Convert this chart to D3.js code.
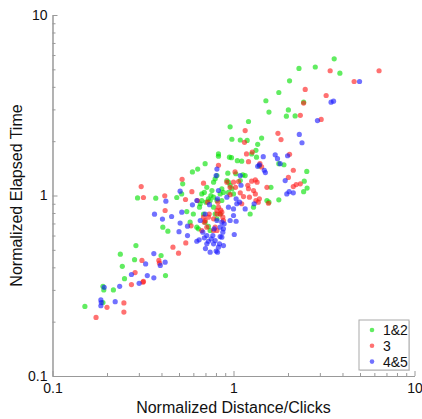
<!DOCTYPE html>
<html>
<head>
<meta charset="utf-8">
<script src="https://cdn.jsdelivr.net/npm/d3@7"></script>
<style>
  html, body { margin: 0; padding: 0; background: #fff; }
  svg { display: block; font-family: "Liberation Sans", Arial, Helvetica, sans-serif; }
</style>
</head>
<body>
<svg id="chart" width="422" height="419"></svg>
<script>
// Group "1&2": [distance/clicks, elapsed time], both normalized
const group12 = [
  [0.151,0.243],[0.19,0.314],[0.192,0.30],[0.217,0.30],[0.19,0.255],[0.237,0.473],[0.243,0.405],
  [0.25,0.346],[0.284,0.441],[0.289,0.528],[0.295,0.97],[0.372,0.967],[0.398,0.465],[0.407,0.668],
  [0.434,0.634],[0.421,0.36],[0.486,0.975],[0.524,1.16],[0.517,1.02],[0.552,0.815],[0.593,1.35],
  [0.634,1.40],[0.697,1.50],[0.576,0.712],[0.6,0.79],[0.627,0.668],[0.64,0.654],[0.649,0.862],
  [0.655,0.90],[0.668,1.02],[0.683,0.79],[0.704,0.918],[0.712,1.11],[0.727,0.958],[0.743,0.938],
  [0.75,1.0],[0.76,1.066],[0.776,1.185],[0.792,1.237],[0.81,1.29],[0.826,1.70],[0.826,1.65],
  [0.844,1.02],[0.862,1.09],[0.88,1.04],[0.776,0.862],[0.792,0.79],[0.81,0.743],[0.844,0.79],
  [0.862,0.938],[0.697,0.712],[0.727,0.674],[0.743,0.64],[0.95,1.63],[0.975,1.62],[0.958,2.40],
  [0.98,2.05],[0.919,1.21],[0.938,1.185],[0.958,1.14],[0.98,1.09],[1.0,1.02],[1.05,1.56],
  [1.09,2.03],[1.11,1.55],[1.126,1.30],[1.16,1.29],[1.19,2.02],[1.21,2.57],[1.236,0.79],
  [1.29,0.862],[1.33,1.78],[1.34,1.63],[1.36,1.92],[1.39,1.46],[1.43,2.08],[1.51,3.35],
  [1.57,2.9],[1.53,0.938],[1.57,0.918],[1.78,3.72],[1.78,1.50],[1.78,0.946],[1.9,1.48],
  [1.96,2.75],[2.01,2.98],[2.04,4.32],[2.19,2.76],[2.3,5.06],[2.44,3.29],[2.46,1.2],[2.44,1.05],
  [2.54,1.36],[2.55,1.10],[2.83,5.15],[3.6,5.72],[3.87,4.76],[1.61,1.11],[0.938,1.04],
  [0.668,0.938],[0.69,1.04],[0.776,0.979],[0.81,0.938],[0.93,1.33],[1.09,1.21],[1.26,1.70],
  [1.03,1.32]
];

// Group "3"
const group3 = [
  [0.174,0.211],[0.2,0.24],[0.248,0.254],[0.248,0.226],[0.273,0.321],[0.286,0.374],[0.312,0.437],
  [0.318,0.334],[0.316,0.331],[0.309,1.12],[0.318,0.975],[0.387,0.437],[0.39,0.422],[0.417,0.996],
  [0.419,0.826],[0.463,0.517],[0.497,0.479],[0.52,1.23],[0.543,0.95],[0.545,0.546],[0.589,1.05],
  [0.583,0.679],[0.683,1.17],[0.632,0.938],[0.683,0.758],[0.697,0.727],[0.712,0.668],[0.668,0.64],
  [0.776,0.64],[0.792,0.668],[0.81,0.826],[0.82,0.918],[0.826,1.47],[0.844,0.79],[0.862,0.808],
  [0.873,0.758],[0.88,0.727],[0.958,1.01],[0.919,1.185],[1.0,1.185],[1.02,1.35],[1.026,1.11],
  [1.066,1.195],[1.09,1.035],[1.11,0.90],[1.136,0.987],[1.16,2.29],[1.15,1.97],[1.18,1.70],
  [1.21,1.54],[1.2,1.14],[1.21,1.09],[1.225,0.979],[1.26,1.2],[1.27,1.74],[1.29,1.066],
  [1.32,1.02],[1.33,0.938],[1.32,1.22],[1.35,1.185],[1.37,0.918],[1.39,0.958],[1.40,1.50],
  [1.43,1.44],[1.56,0.906],[1.53,1.11],[1.76,2.21],[1.83,2.04],[2.04,1.69],[2.01,1.26],
  [2.14,1.38],[2.14,1.12],[2.22,1.15],[2.34,2.78],[2.44,3.25],[2.49,3.87],[2.34,1.16],
  [3.05,2.64],[3.25,3.58],[3.42,4.91],[4.64,4.28],[6.37,4.91],[0.734,0.79],[0.826,0.862],
  [0.81,0.79],[0.85,0.83],[0.776,0.743],[0.727,0.758],[0.69,0.712],[0.81,0.64],[0.958,1.11],
  [0.72,0.918]
];

// Group "4&5"
const group45 = [
  [0.185,0.264],[0.186,0.255],[0.185,0.245],[0.193,0.31],[0.222,0.258],[0.235,0.314],[0.273,0.365],
  [0.301,0.326],[0.327,0.418],[0.334,0.36],[0.363,0.477],[0.363,0.35],[0.366,0.788],[0.405,0.74],
  [0.423,0.93],[0.455,0.765],[0.394,0.41],[0.419,0.427],[0.507,1.057],[0.518,0.808],[0.507,0.703],
  [0.5,0.63],[0.557,0.676],[0.557,0.6],[0.593,0.888],[0.627,0.938],[0.646,0.568],[0.627,0.558],
  [0.655,0.727],[0.677,0.626],[0.69,0.583],[0.7,0.508],[0.712,0.54],[0.727,0.558],[0.743,0.485],
  [0.753,0.575],[0.769,0.6],[0.776,0.54],[0.792,0.563],[0.802,0.492],[0.816,0.485],[0.826,0.517],
  [0.837,0.54],[0.844,0.592],[0.862,0.588],[0.873,0.626],[0.88,0.528],[0.816,0.958],[0.826,1.066],
  [0.81,1.40],[0.802,1.29],[0.844,0.668],[0.862,0.712],[0.88,0.654],[0.888,0.697],[0.919,0.979],
  [0.938,0.862],[0.958,0.727],[1.0,0.775],[1.01,0.608],[1.034,0.72],[1.0,0.843],[1.043,0.90],
  [1.08,0.918],[1.09,1.29],[1.1,1.14],[1.16,0.843],[1.3,0.90],[1.36,1.45],[1.39,1.48],
  [1.46,1.64],[1.48,1.38],[1.5,1.34],[1.7,1.68],[1.75,1.60],[1.81,1.50],[1.93,1.21],[1.99,1.66],
  [1.97,1.02],[2.03,1.05],[2.14,1.035],[2.31,2.18],[2.39,1.96],[2.91,2.6],[3.46,3.29],[3.57,3.33],
  [4.97,4.28],[0.712,0.6],[0.782,0.654],[0.81,0.727],[0.737,0.89],[0.697,0.79],[1.034,0.958]
];

const seriesNames = ["1&2", "3", "4&5"];
const seriesColors = ["#00e000", "#ff1a1a", "#1a1aff"];
const seriesData = [group12, group3, group45];

const xTitle = "Normalized Distance/Clicks";
const yTitle = "Normalized Elapsed Time";
const majorTicks = [0.1, 1, 10];
const tickLabels = ["0.1", "1", "10"];

const svg = d3.select("#chart");
const plotLeft = 52.5, plotRight = 414.5, plotTop = 15, plotBottom = 376;

const x = d3.scaleLog().domain([0.1, 10]).range([plotLeft, plotRight]);
const y = d3.scaleLog().domain([0.1, 10]).range([plotBottom, plotTop]);

const minorTicks = [];
for (const d of [0.1, 1]) for (let k = 2; k <= 9; k++) minorTicks.push(+(d * k).toFixed(2));

const axisColor = "#999";

function styleAxis(g) {
  g.select(".domain").attr("stroke", axisColor);
  g.selectAll(".tick line").attr("stroke", axisColor);
  g.selectAll(".tick text").attr("fill", "#111").style("font-size", "14px");
}

// bottom axis: major ticks with labels, minor ticks without
const xMajor = svg.append("g").attr("transform", `translate(0,${plotBottom})`)
  .call(d3.axisBottom(x).tickValues(majorTicks).tickSizeInner(-5).tickSizeOuter(0)
    .tickPadding(7).tickFormat((d, i) => tickLabels[i]));
styleAxis(xMajor);
const xMinor = svg.append("g").attr("transform", `translate(0,${plotBottom})`)
  .call(d3.axisBottom(x).tickValues(minorTicks).tickSizeInner(-3).tickSizeOuter(0).tickFormat(""));
styleAxis(xMinor);

// left axis
const yMajor = svg.append("g").attr("transform", `translate(${plotLeft},0)`)
  .call(d3.axisLeft(y).tickValues(majorTicks).tickSizeInner(-5).tickSizeOuter(0)
    .tickPadding(5).tickFormat((d, i) => tickLabels[i]));
styleAxis(yMajor);
const yMinor = svg.append("g").attr("transform", `translate(${plotLeft},0)`)
  .call(d3.axisLeft(y).tickValues(minorTicks).tickSizeInner(-3).tickSizeOuter(0).tickFormat(""));
styleAxis(yMinor);

// axis titles
svg.append("text")
  .attr("x", (plotLeft + plotRight) / 2).attr("y", 413)
  .attr("text-anchor", "middle").attr("fill", "#111").style("font-size", "16px")
  .text(xTitle);
svg.append("text")
  .attr("transform", `translate(22,${(plotTop + plotBottom) / 2}) rotate(-90)`)
  .attr("text-anchor", "middle").attr("fill", "#111").style("font-size", "16px")
  .text(yTitle);

// scatter points
const plot = svg.append("g");
seriesData.forEach((data, i) => {
  plot.append("g").selectAll("circle").data(data).join("circle")
    .attr("cx", d => x(d[0]))
    .attr("cy", d => y(d[1]))
    .attr("r", 2.6)
    .attr("fill", seriesColors[i])
    .attr("fill-opacity", 0.62);
});

// legend
const lg = svg.append("g").attr("transform", "translate(359,320)");
lg.append("rect").attr("x", 1).attr("y", 1).attr("width", 50).attr("height", 50)
  .attr("fill", "#ddd");
lg.append("rect").attr("width", 50).attr("height", 50)
  .attr("fill", "#fff").attr("stroke", "#aaa").attr("stroke-width", 1);
seriesNames.forEach((name, i) => {
  const row = lg.append("g").attr("transform", `translate(0,${10 + i * 15.8})`);
  row.append("circle").attr("cx", 13).attr("cy", 0).attr("r", 2.3)
    .attr("fill", seriesColors[i]).attr("fill-opacity", 0.62);
  row.append("text").attr("x", 24).attr("y", 5).attr("fill", "#111")
    .style("font-size", "14px").text(name);
});
</script>
</body>
</html>
